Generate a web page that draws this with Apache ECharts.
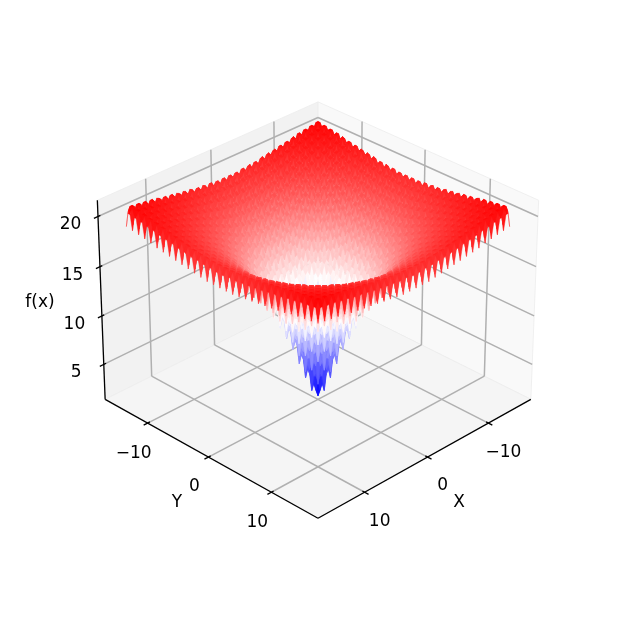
<!DOCTYPE html>
<html><head><meta charset="utf-8">
<style>html,body{margin:0;padding:0;background:#fff}#c{width:620px;height:620px}#c canvas{filter:blur(0.4px)}</style>
<script src="https://cdn.jsdelivr.net/npm/echarts@6/dist/echarts.min.js"></script>
</head><body><div id="c"></div>
<script>
const xTicks = [-10, 0, 10];
const yTicks = [-10, 0, 10];
const zTicks = [5, 10, 15, 20];
const xTickLabels = ['\u221210', '0', '10'];
const yTickLabels = ['\u221210', '0', '10'];
const zTickLabels = ['5', '10', '15', '20'];
const xyPaneLimit = 17.19;
const zPaneLimits = [1.33, 21.6];
const gridStep = 1 / 3;
const colorLimits = [1.9, 21];
// f(x) heights: rows go outward from the centre, one octant, repeated by symmetry.
const surfaceRows = [
[1.7],
[2.4,3.4],
[3.2,4.1,4.6],
[2.6,4.2,4.6,3.6],
[4.9,5.6,5.9,5.6,6.8],
[5.6,6.4,6.6,6.2,7.3,7.8],
[4.9,6.4,6.6,5.4,7.2,7.6,6.6],
[7.1,7.8,7.9,7.5,8.4,8.8,8.5,9.6],
[7.7,8.4,8.6,8.1,9.0,9.3,9.0,10.0,10.4],
[6.9,8.4,8.5,7.2,8.9,9.1,8.0,9.8,10.1,9.0],
[9.0,9.7,9.7,9.2,10.1,10.3,9.9,10.9,11.2,10.8,11.8],
[9.5,10.2,10.3,9.8,10.6,10.8,10.4,11.3,11.6,11.2,12.2,12.5],
[8.6,10.1,10.2,8.8,10.4,10.6,9.4,11.0,11.3,10.1,11.9,12.2,11.0],
[10.6,11.3,11.4,10.8,11.6,11.7,11.3,12.1,12.4,11.9,12.9,13.1,12.8,13.7],
[11.1,11.8,11.8,11.3,12.0,12.2,11.7,12.5,12.8,12.3,13.2,13.5,13.1,14.0,14.2],
[10.1,11.6,11.6,10.3,11.8,11.9,10.7,12.3,12.5,11.2,12.9,13.1,11.9,13.6,13.8,12.6],
[12.0,12.7,12.8,12.2,12.9,13.0,12.5,13.3,13.5,13.0,13.9,14.1,13.7,14.5,14.8,14.3,15.2],
[12.5,13.1,13.2,12.6,13.3,13.4,12.9,13.7,13.9,13.4,14.2,14.4,13.9,14.8,15.0,14.6,15.5,15.7],
[11.4,12.9,12.9,11.5,13.1,13.2,11.8,13.4,13.5,12.3,13.9,14.0,12.8,14.4,14.6,13.4,15.0,15.2,14.0],
[13.3,14.0,14.0,13.4,14.1,14.2,13.6,14.4,14.5,14.0,14.8,15.0,14.5,15.3,15.5,15.1,15.9,16.1,15.6,16.5],
[13.7,14.3,14.4,13.7,14.5,14.5,14.0,14.7,14.9,14.3,15.1,15.3,14.8,15.6,15.8,15.3,16.1,16.3,15.8,16.7,16.8],
[12.6,14.0,14.0,12.6,14.1,14.2,12.9,14.4,14.5,13.2,14.8,14.9,13.6,15.2,15.4,14.1,15.7,15.9,14.6,16.2,16.3,15.1],
[14.4,15.0,15.1,14.4,15.1,15.2,14.6,15.4,15.5,14.9,15.7,15.8,15.3,16.1,16.3,15.7,16.6,16.7,16.2,17.0,17.2,16.7,17.5],
[14.7,15.4,15.4,14.7,15.5,15.5,14.9,15.7,15.8,15.2,16.0,16.1,15.6,16.4,16.5,16.0,16.8,16.9,16.4,17.2,17.4,16.8,17.7,17.8],
[13.6,15.0,15.0,13.6,15.1,15.1,13.8,15.3,15.4,14.0,15.6,15.7,14.4,15.9,16.0,14.7,16.3,16.4,15.1,16.7,16.9,15.6,17.1,17.3,16.0],
[15.3,16.0,16.0,15.3,16.0,16.1,15.5,16.2,16.3,15.7,16.5,16.6,16.0,16.8,16.9,16.4,17.2,17.3,16.8,17.6,17.7,17.2,18.0,18.1,17.5,18.3],
[15.6,16.2,16.3,15.6,16.3,16.4,15.8,16.5,16.6,16.0,16.7,16.8,16.3,17.0,17.1,16.6,17.4,17.5,16.9,17.7,17.9,17.3,18.1,18.2,17.7,18.5,18.6],
[14.4,15.9,15.9,14.4,15.9,16.0,14.6,16.1,16.1,14.8,16.3,16.4,15.0,16.6,16.7,15.3,16.9,17.0,15.7,17.2,17.3,16.0,17.6,17.7,16.4,17.9,18.0,16.7],
[16.1,16.8,16.8,16.1,16.8,16.9,16.3,17.0,17.0,16.4,17.2,17.3,16.7,17.4,17.5,17.0,17.7,17.8,17.3,18.1,18.2,17.6,18.4,18.5,17.9,18.7,18.8,18.2,19.0],
[16.3,17.0,17.0,16.4,17.1,17.1,16.5,17.2,17.3,16.7,17.4,17.5,16.9,17.6,17.7,17.2,17.9,18.0,17.4,18.2,18.3,17.7,18.5,18.6,18.0,18.8,18.9,18.3,19.1,19.2],
[15.1,16.6,16.6,15.2,16.6,16.7,15.3,16.8,16.8,15.4,16.9,17.0,15.6,17.2,17.2,15.9,17.4,17.5,16.2,17.7,17.8,16.4,18.0,18.1,16.7,18.3,18.4,17.0,18.5,18.6,17.3],
[16.8,17.5,17.5,16.8,17.5,17.6,16.9,17.6,17.7,17.1,17.8,17.9,17.3,18.0,18.1,17.5,18.3,18.3,17.8,18.5,18.6,18.0,18.8,18.9,18.3,19.1,19.1,18.6,19.3,19.4,18.8,19.6],
[17.0,17.7,17.7,17.0,17.7,17.8,17.1,17.8,17.9,17.3,18.0,18.1,17.4,18.2,18.3,17.7,18.4,18.5,17.9,18.6,18.7,18.1,18.9,19.0,18.4,19.2,19.2,18.7,19.4,19.5,18.9,19.7,19.7],
[15.8,17.2,17.2,15.8,17.3,17.3,15.9,17.4,17.4,16.0,17.5,17.6,16.2,17.7,17.8,16.4,17.9,18.0,16.6,18.1,18.2,16.8,18.4,18.4,17.1,18.6,18.7,17.3,18.8,18.9,17.5,19.1,19.1,17.8],
[17.4,18.1,18.1,17.4,18.1,18.2,17.5,18.2,18.3,17.6,18.4,18.4,17.8,18.5,18.6,18.0,18.7,18.8,18.2,18.9,19.0,18.4,19.1,19.2,18.6,19.4,19.4,18.9,19.6,19.7,19.1,19.8,19.9,19.3,20.0],
[17.6,18.3,18.3,17.6,18.3,18.3,17.7,18.4,18.4,17.8,18.5,18.6,17.9,18.7,18.7,18.1,18.9,18.9,18.3,19.1,19.1,18.5,19.3,19.3,18.7,19.5,19.5,18.9,19.7,19.8,19.2,19.9,20.0,19.4,20.1,20.2],
[16.3,17.8,17.8,16.4,17.8,17.8,16.4,17.9,17.9,16.5,18.0,18.0,16.7,18.1,18.2,16.8,18.3,18.4,17.0,18.5,18.6,17.2,18.7,18.8,17.4,18.9,19.0,17.6,19.1,19.2,17.8,19.3,19.4,18.0,19.5,19.6,18.2],
[17.9,18.6,18.6,18.0,18.6,18.7,18.0,18.7,18.7,18.1,18.8,18.9,18.2,19.0,19.0,18.4,19.1,19.2,18.6,19.3,19.4,18.7,19.5,19.5,18.9,19.7,19.7,19.1,19.9,19.9,19.3,20.1,20.1,19.5,20.2,20.3,19.7,20.4],
[18.1,18.8,18.8,18.1,18.8,18.8,18.2,18.9,18.9,18.3,19.0,19.0,18.4,19.1,19.1,18.5,19.2,19.3,18.7,19.4,19.5,18.9,19.6,19.6,19.0,19.8,19.8,19.2,20.0,20.0,19.4,20.1,20.2,19.6,20.3,20.4,19.7,20.5,20.5],
[16.8,18.3,18.3,16.8,18.3,18.3,16.9,18.3,18.4,17.0,18.4,18.5,17.1,18.6,18.6,17.2,18.7,18.7,17.4,18.9,18.9,17.5,19.0,19.1,17.7,19.2,19.3,17.9,19.4,19.4,18.0,19.5,19.6,18.2,19.7,19.8,18.4,19.9,19.9,18.5],
[18.4,19.1,19.1,18.4,19.1,19.1,18.5,19.2,19.2,18.5,19.2,19.3,18.6,19.4,19.4,18.8,19.5,19.5,18.9,19.6,19.7,19.1,19.8,19.8,19.2,20.0,20.0,19.4,20.1,20.2,19.5,20.3,20.3,19.7,20.4,20.5,19.9,20.6,20.6,20.0,20.7],
[18.5,19.2,19.2,18.6,19.2,19.3,18.6,19.3,19.3,18.7,19.4,19.4,18.8,19.5,19.5,18.9,19.6,19.6,19.0,19.7,19.8,19.2,19.9,19.9,19.3,20.0,20.1,19.5,20.2,20.2,19.6,20.3,20.4,19.8,20.5,20.5,19.9,20.6,20.7,20.1,20.8,20.8],
[17.2,18.7,18.7,17.3,18.7,18.7,17.3,18.8,18.8,17.4,18.8,18.9,17.4,18.9,19.0,17.6,19.0,19.1,17.7,19.2,19.2,17.8,19.3,19.4,18.0,19.4,19.5,18.1,19.6,19.6,18.2,19.7,19.8,18.4,19.9,19.9,18.5,20.0,20.1,18.7,20.1,20.2,18.8],
[18.8,19.5,19.5,18.8,19.5,19.5,18.9,19.5,19.6,18.9,19.6,19.6,19.0,19.7,19.7,19.1,19.8,19.9,19.2,19.9,20.0,19.4,20.1,20.1,19.5,20.2,20.2,19.6,20.3,20.4,19.8,20.5,20.5,19.9,20.6,20.6,20.0,20.7,20.8,20.1,20.9,20.9,20.3,21.0],
[18.9,19.6,19.6,18.9,19.6,19.6,19.0,19.7,19.7,19.0,19.7,19.8,19.1,19.8,19.8,19.2,19.9,20.0,19.3,20.0,20.1,19.4,20.1,20.2,19.6,20.3,20.3,19.7,20.4,20.4,19.8,20.5,20.6,19.9,20.7,20.7,20.1,20.8,20.8,20.2,20.9,20.9,20.3,21.0,21.0],
[17.6,19.0,19.0,17.6,19.1,19.1,17.6,19.1,19.1,17.7,19.2,19.2,17.8,19.2,19.3,17.9,19.3,19.4,18.0,19.4,19.5,18.1,19.6,19.6,18.2,19.7,19.7,18.3,19.8,19.8,18.4,19.9,20.0,18.6,20.0,20.1,18.7,20.2,20.2,18.8,20.3,20.3,18.9,20.4,20.4,19.0]
];

// View of the 3D box, fitted to the picture.
const elevDeg = 30, azimDeg = 45, eyeDistance = 12.4;
const xyBoxHalf = 0.5952, zBoxHalf = 0.4464;
const pixelScale = 3192, originX = 318, originY = 301.6, frameSize = 620;
const font = '17px "DejaVu Sans"';

const el = elevDeg * Math.PI / 180, az = azimDeg * Math.PI / 180;
const w = [Math.cos(el) * Math.cos(az), Math.cos(el) * Math.sin(az), Math.sin(el)];
const u = [-Math.sin(az), Math.cos(az), 0];
const v = [w[1] * u[2] - w[2] * u[1], w[2] * u[0] - w[0] * u[2], w[0] * u[1] - w[1] * u[0]];
const dot = (a, b) => a[0] * b[0] + a[1] * b[1] + a[2] * b[2];
const zMid = (zPaneLimits[0] + zPaneLimits[1]) / 2;
const zHalf = (zPaneLimits[1] - zPaneLimits[0]) / 2;
const toBox = p => [p[0] / xyPaneLimit * xyBoxHalf, p[1] / xyPaneLimit * xyBoxHalf, (p[2] - zMid) / zHalf * zBoxHalf];
const depthOf = p => eyeDistance - dot(toBox(p), w);
const project = p => { const b = toBox(p), d = eyeDistance - dot(b, w); return [dot(b, u) / d, dot(b, v) / d]; };

const L = xyPaneLimit, zLo = zPaneLimits[0], zHi = zPaneLimits[1];
const panes = [
  {fill: '#f2f2f2', pts: [[L, -L, zLo], [-L, -L, zLo], [-L, -L, zHi], [L, -L, zHi]]},
  {fill: '#f9f9f9', pts: [[-L, L, zLo], [-L, -L, zLo], [-L, -L, zHi], [-L, L, zHi]]},
  {fill: '#f5f5f5', pts: [[L, L, zLo], [L, -L, zLo], [-L, -L, zLo], [-L, L, zLo]]}
];
const gridSegs = [];
xTicks.forEach(t => { gridSegs.push([[t, L, zLo], [t, -L, zLo]], [[t, -L, zLo], [t, -L, zHi]]); });
yTicks.forEach(t => { gridSegs.push([[L, t, zLo], [-L, t, zLo]], [[-L, t, zLo], [-L, t, zHi]]); });
zTicks.forEach(t => { gridSegs.push([[L, -L, t], [-L, -L, t]], [[-L, -L, t], [-L, L, t]]); });
const tickIn = 0.35, tickOut = 0.6;
const axisSegs = [[[L, -L, zLo], [L, -L, zHi]], [[L, -L, zLo], [L, L, zLo]], [[L, L, zLo], [-L, L, zLo]]];
xTicks.forEach(t => axisSegs.push([[t, L - tickIn, zLo], [t, L + tickOut, zLo]]));
yTicks.forEach(t => axisSegs.push([[L - tickIn, t, zLo], [L + tickOut, t, zLo]]));
zTicks.forEach(t => axisSegs.push([[L - tickIn, -L, t], [L + tickOut, -L, t]]));

const texts = [];
xTicks.forEach((t, i) => texts.push({text: xTickLabels[i], at: [t, L, zLo], dx: 15, dy: 29}));
yTicks.forEach((t, i) => texts.push({text: yTickLabels[i], at: [L, t, zLo], dx: -14, dy: 30}));
zTicks.forEach((t, i) => texts.push({text: zTickLabels[i], at: [L, -L, t], dx: -27.5, dy: 8.5}));
texts.push({text: 'X', px: [459, 503]}, {text: 'Y', px: [177, 503]}, {text: 'f(x)', px: [40, 303]});

const half = surfaceRows.length - 1;
const zAt = (a, b) => { const p = Math.abs(a), q = Math.abs(b); return surfaceRows[Math.max(p, q)][Math.min(p, q)]; };
const colorOf = z => {
  const t = Math.min(1, Math.max(0, (z - colorLimits[0]) / (colorLimits[1] - colorLimits[0])));
  const c = t < 0.5 ? [2 * t, 2 * t, 1] : [1, 2 * (1 - t), 2 * (1 - t)];
  return 'rgb(' + c.map(x => Math.round(x * 255)).join(',') + ')';
};
const cells = [];
for (let a = -half; a < half; a++) for (let b = -half; b < half; b++) {
  const pts = [[a, b], [a + 1, b], [a + 1, b + 1], [a, b + 1]].map(g => [g[0] * gridStep, g[1] * gridStep, zAt(g[0], g[1])]);
  const meanZ = pts.reduce((s, p) => s + p[2], 0) / 4;
  const depth = pts.reduce((s, p) => s + depthOf(p), 0) / 4;
  cells.push({pts, depth, fill: colorOf(meanZ)});
}
cells.sort((m, n) => n.depth - m.depth);

const customSeries = (items, draw, z) => ({
  type: 'custom', coordinateSystem: 'cartesian2d', clip: false, silent: true, z,
  animation: false, progressive: 0, data: items.map((_, i) => [i, i]),
  encode: {x: 0, y: 1},
  renderItem: (params, api) => draw(items[params.dataIndex], api)
});
const toPx = (p, api) => api.coord(project(p));

const chart = echarts.init(document.getElementById('c'), null, {renderer: 'canvas', width: frameSize, height: frameSize});
chart.setOption({
  animation: false,
  backgroundColor: '#ffffff',
  grid: {left: 0, right: 0, top: 0, bottom: 0},
  xAxis: {type: 'value', show: false, min: -originX / pixelScale, max: (frameSize - originX) / pixelScale},
  yAxis: {type: 'value', show: false, min: (originY - frameSize) / pixelScale, max: originY / pixelScale},
  series: [
    customSeries(panes, (d, api) => ({type: 'polygon', shape: {points: d.pts.map(p => toPx(p, api))}, style: {fill: d.fill, stroke: '#ececec', lineWidth: 0.8}}), 1),
    customSeries(gridSegs, (d, api) => {
      const a = toPx(d[0], api), b = toPx(d[1], api);
      return {type: 'line', shape: {x1: a[0], y1: a[1], x2: b[0], y2: b[1]}, style: {stroke: '#b0b0b0', lineWidth: 1.5}};
    }, 2),
    customSeries(axisSegs, (d, api) => {
      const a = toPx(d[0], api), b = toPx(d[1], api);
      return {type: 'line', shape: {x1: a[0], y1: a[1], x2: b[0], y2: b[1]}, style: {stroke: '#000000', lineWidth: 1.3}};
    }, 3),
    customSeries(cells, (d, api) => ({type: 'polygon', shape: {points: d.pts.map(p => toPx(p, api))}, style: {fill: d.fill, stroke: d.fill, lineWidth: 0.4}}), 4),
    customSeries(texts, (d, api) => {
      const c = d.px || (q => [q[0] + d.dx, q[1] + d.dy])(toPx(d.at, api));
      return {type: 'text', style: {text: d.text, x: c[0], y: c[1], font, fill: '#000000', align: 'center', verticalAlign: 'middle'}};
    }, 5)
  ]
});
</script></body></html>
